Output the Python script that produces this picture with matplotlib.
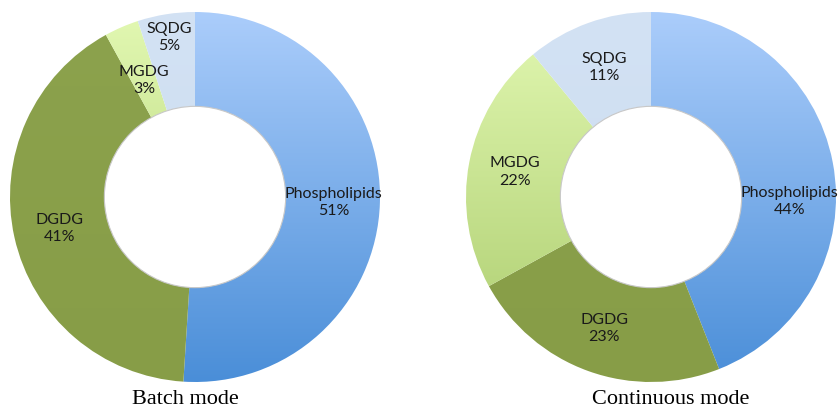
import numpy as np
import matplotlib
matplotlib.use("Agg")
import matplotlib.pyplot as plt
from matplotlib.patches import Wedge, Circle
from matplotlib.colors import LinearSegmentedColormap

# data
lipids = ["Phospholipids", "DGDG", "MGDG", "SQDG"]
batch = [51, 41, 3, 5]
continuous = [44, 23, 22, 11]
titles = ["Batch mode", "Continuous mode"]

# top / bottom colour of each slice's gradient
grad = {
    "Phospholipids": ("#abcdfb", "#4a8ed8"),
    "DGDG": ("#8ca24d", "#879d47"),
    "MGDG": ("#e2f8b2", "#aacb6c"),
    "SQDG": ("#d3e2f4", "#c9dbee"),
}

W, H = 840, 410
fig = plt.figure(figsize=(W / 100, H / 100), dpi=100)

R_IN = 0.49
LABEL_R = 0.75
# labels Excel moved off the default spot, keyed by (chart, slice)
label_r_override = {(0, 2): 0.69, (0, 3): 0.88}
label_angle_override = {(1, 0): -1.5}


def donut(ax, values, idx):
    ax.set_xlim(-1, 1)
    ax.set_ylim(-1, 1)
    ax.set_aspect("equal")
    ax.axis("off")
    total = sum(values)
    start = 90.0
    # 0 at the top row, 1 at the bottom row
    ramp = np.tile(np.linspace(0, 1, 256).reshape(-1, 1), (1, 2))
    for i, (name, v) in enumerate(zip(lipids, values)):
        sweep = 360.0 * v / total
        end = start - sweep
        w = Wedge((0, 0), 1.0, end, start, width=1 - R_IN,
                  facecolor="none", edgecolor="none")
        ax.add_patch(w)
        cmap = LinearSegmentedColormap.from_list(name, [grad[name][0], grad[name][1]])
        im = ax.imshow(ramp, cmap=cmap, vmin=0, vmax=1,
                       extent=(-1, 1, -1, 1), origin="upper",
                       aspect="auto", interpolation="bilinear", zorder=1)
        im.set_clip_path(w)
        mid = np.deg2rad(label_angle_override.get((idx, i), (start + end) / 2))
        r = label_r_override.get((idx, i), LABEL_R)
        ax.text(r * np.cos(mid), r * np.sin(mid), f"{name}\n{v}%",
                ha="center", va="center", fontsize=11.5, family="Lato",
                color="#1a1a1a", linespacing=1.3, zorder=3)
        start = end
    ax.add_patch(Circle((0, 0), R_IN, facecolor="none",
                        edgecolor="#c8c8c8", linewidth=0.8, zorder=2))


# axes placed in pixel terms: left edge, top edge, diameter
boxes = [(10, 13, 370), (466, 13, 370)]
for idx, (vals, (x0, y0, d)) in enumerate(zip([batch, continuous], boxes)):
    ax = fig.add_axes([x0 / W, (H - y0 - d) / H, d / W, d / H])
    donut(ax, vals, idx)

fig.text(185 / W, 1 - 400 / H, titles[0], ha="center", va="center",
         family="Liberation Serif", fontsize=16, color="black")
fig.text(671 / W, 1 - 400 / H, titles[1], ha="center", va="center",
         family="Liberation Serif", fontsize=16, color="black")

fig.savefig("out.png", dpi=100, facecolor="white")
